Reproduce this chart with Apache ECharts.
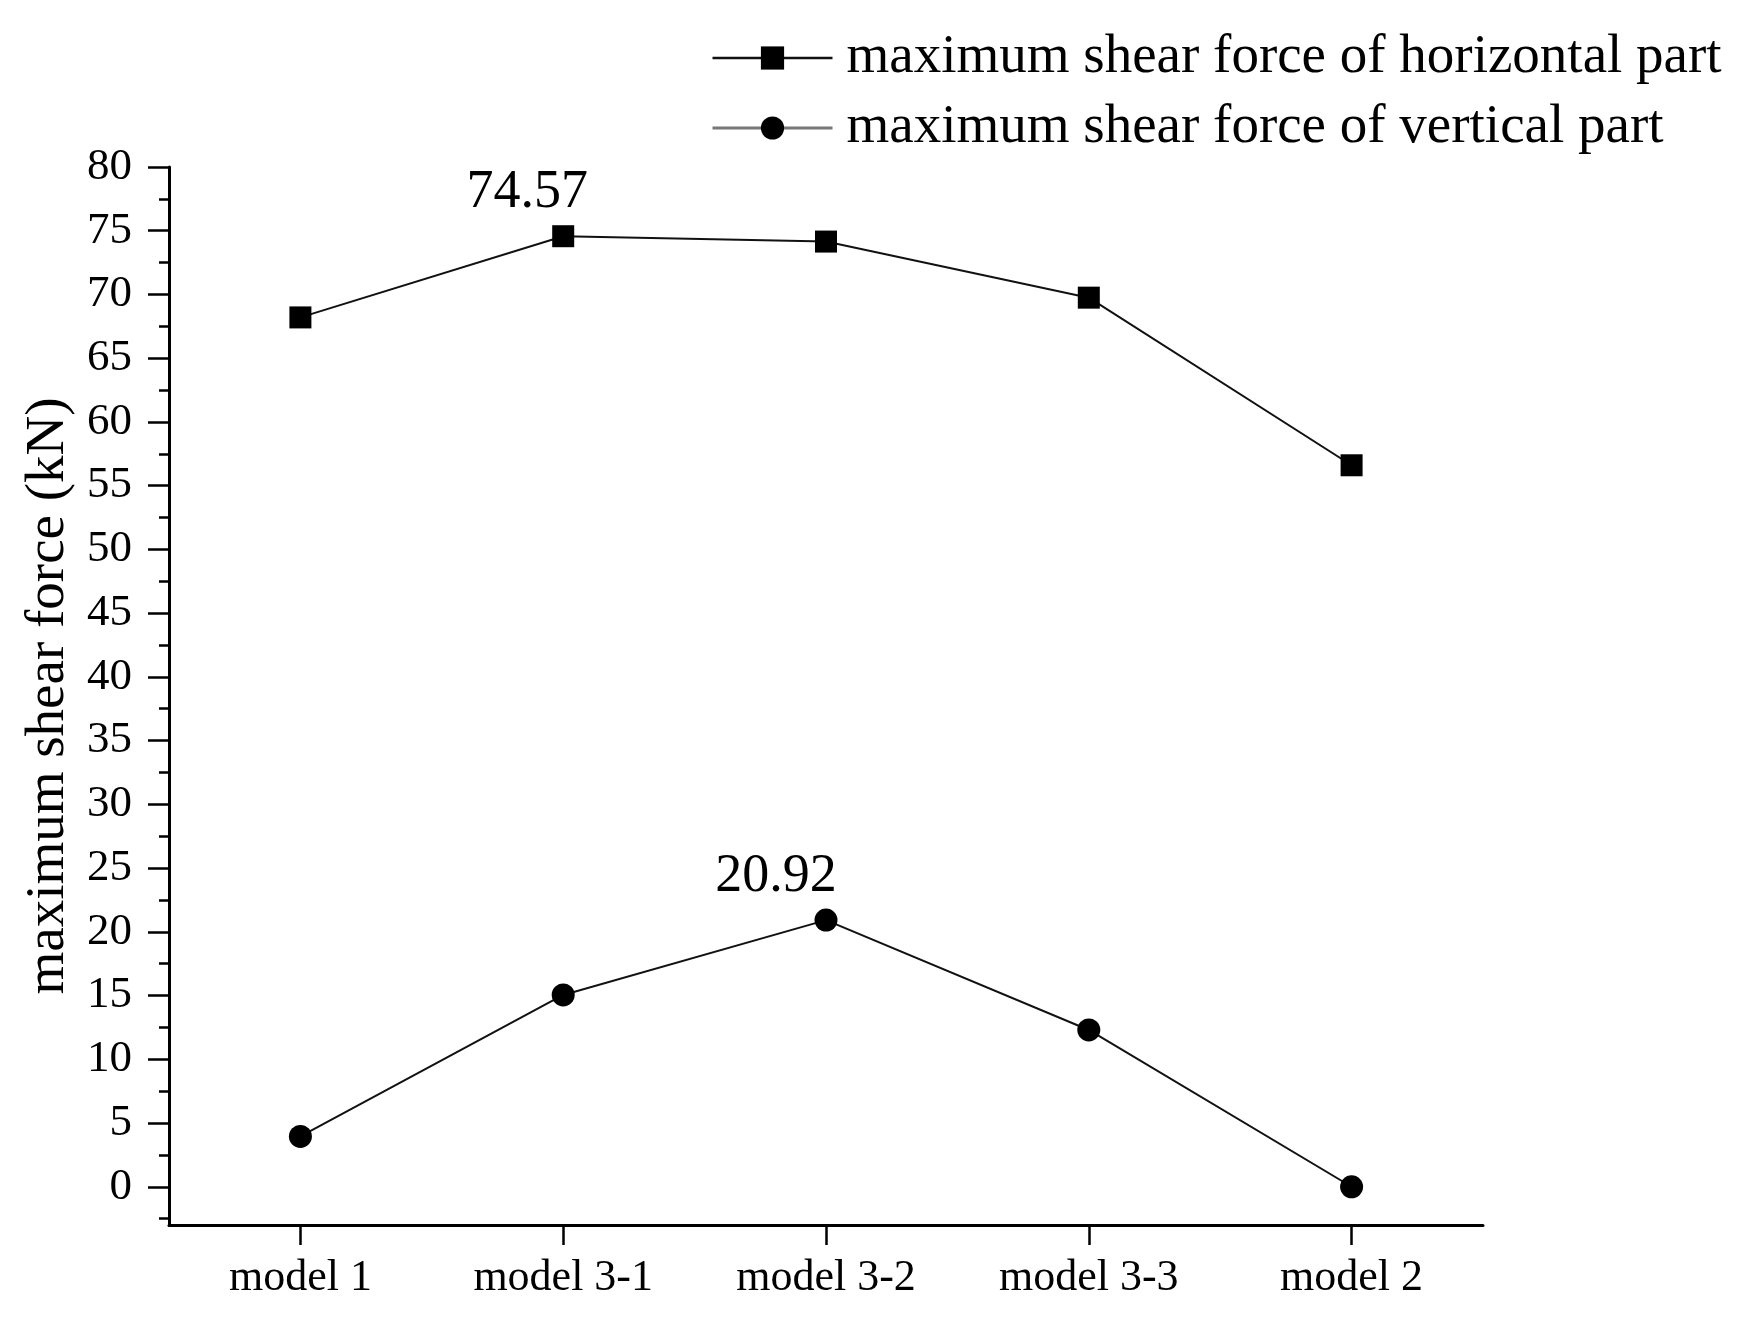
<!DOCTYPE html>
<html><head><meta charset="utf-8">
<script src="https://cdn.jsdelivr.net/npm/echarts@6/dist/echarts.min.js"></script>
<style>html,body{margin:0;padding:0;background:#fff}#c{width:1761px;height:1320px}</style>
</head><body><div id="c"></div>
<script>
const categories = ['model 1', 'model 3-1', 'model 3-2', 'model 3-3', 'model 2'];
const horizontalShear = [68.2, 74.57, 74.15, 69.75, 56.6];
const verticalShear = [3.95, 15.05, 20.92, 12.3, 0];
const seriesNames = ['maximum shear force of horizontal part', 'maximum shear force of vertical part'];
const yTickLabels = [0, 5, 10, 15, 20, 25, 30, 35, 40, 45, 50, 55, 60, 65, 70, 75, 80];
const yMinorTicks = [-2.5, 2.5, 7.5, 12.5, 17.5, 22.5, 27.5, 32.5, 37.5, 42.5, 47.5, 52.5, 57.5, 62.5, 67.5, 72.5, 77.5];
const labelledHorizontal = 1;
const labelledVertical = 2;

const FONT = 'Liberation Serif';
const chart = echarts.init(document.getElementById('c'), null, {renderer: 'canvas'});

function buildData(values, labelIdx, offsetX) {
  return values.map((v, i) => i === labelIdx ? {
    value: v,
    label: {show: true, position: 'top', distance: 5, offset: [offsetX, 0],
      formatter: String(v), fontFamily: FONT, fontSize: 54, color: '#000'}
  } : v);
}

chart.setOption({
  backgroundColor: '#fff',
  animation: false,
  grid: {left: 169, right: 278, top: 167, bottom: 95, containLabel: false},
  legend: {
    orient: 'vertical', left: 711, top: 29, padding: 0,
    itemWidth: 120, itemHeight: 29, itemGap: 12,
    textStyle: {fontFamily: FONT, fontSize: 55, lineHeight: 58, color: '#000', padding: [0, 0, 0, 9]},
    data: [
      {name: seriesNames[0], lineStyle: {color: '#111', width: 2.5}},
      {name: seriesNames[1], lineStyle: {color: '#777', width: 3}}
    ]
  },
  xAxis: {
    type: 'category', data: categories, boundaryGap: true,
    axisLine: {onZero: false, lineStyle: {color: '#000', width: 3}},
    axisTick: {show: true, alignWithLabel: true, length: 20, lineStyle: {color: '#000', width: 2.5}},
    axisLabel: {fontFamily: FONT, fontSize: 44, color: '#000', margin: 31},
    splitLine: {show: false}
  },
  yAxis: [{
    type: 'value', min: -3, max: 80,
    name: 'maximum shear force (kN)', nameLocation: 'middle', nameGap: 86,
    nameTextStyle: {fontFamily: FONT, fontSize: 55, color: '#000'},
    axisLine: {show: true, lineStyle: {color: '#000', width: 3}},
    axisTick: {show: true, length: 21, customValues: yTickLabels, lineStyle: {color: '#000', width: 2.5}},
    axisLabel: {fontFamily: FONT, fontSize: 45, color: '#000', margin: 37, customValues: yTickLabels},
    splitLine: {show: false}
  }, {
    type: 'value', min: -3, max: 80, position: 'left',
    axisLine: {show: false},
    axisTick: {show: true, length: 10, customValues: yMinorTicks, lineStyle: {color: '#000', width: 2.5}},
    axisLabel: {show: false, customValues: yMinorTicks},
    splitLine: {show: false}
  }],
  series: [{
    name: seriesNames[0], type: 'line', yAxisIndex: 0,
    data: buildData(horizontalShear, labelledHorizontal, -36),
    symbol: 'rect', symbolSize: 22,
    lineStyle: {color: '#111', width: 2},
    itemStyle: {color: '#000'}
  }, {
    name: seriesNames[1], type: 'line', yAxisIndex: 0,
    data: buildData(verticalShear, labelledVertical, -50),
    symbol: 'circle', symbolSize: 23,
    lineStyle: {color: '#111', width: 2},
    itemStyle: {color: '#000'}
  }]
});
</script>
</body></html>
